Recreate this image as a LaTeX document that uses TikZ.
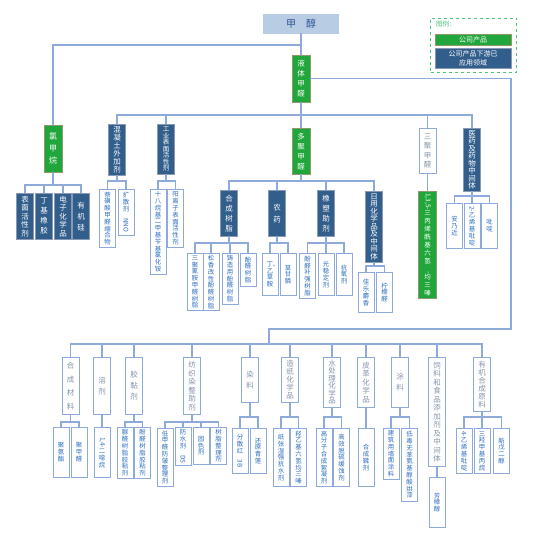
\documentclass[tikz,border=0pt]{standalone}
\usepackage{fontspec}
\setmainfont{Noto Sans CJK SC}
\usepackage{graphicx}
\usetikzlibrary{positioning,calc}
\XeTeXlinebreaklocale "zh"
\XeTeXlinebreakskip=0pt plus 1pt
\setlength{\parindent}{0pt}
\definecolor{prodgreen}{HTML}{21A63B}
\definecolor{prodedge}{HTML}{8C9A6C}
\definecolor{fielddark}{HTML}{325E8C}
\definecolor{linkblue}{HTML}{8EAADB}
\definecolor{leafblue}{HTML}{2E6FC0}
\definecolor{catgray}{HTML}{8494AE}
\definecolor{topfill}{HTML}{B8CCE4}
\definecolor{toptext}{HTML}{2F5597}
\definecolor{legendgreen}{HTML}{4CC47A}
\newcommand{\rotlat}[1]{\hskip0pt\rotatebox{-90}{#1}\hskip0pt}
\newcommand{\branch}[3]{\foreach \c in {#3} {\draw[conn] (#1.south) -- (#1.south |- #2) -| (\c.north);}}

\begin{document}
\begin{tikzpicture}[x=1pt,y=-1pt,
  box/.style={draw, rectangle, anchor=north, inner xsep=0pt, inner ysep=2pt, align=center},
  lsp/.style={font=\fontsize{7.5}{#1}\selectfont},
  prod/.style={box, fill=prodgreen, draw=prodedge, text=white, minimum width=18pt, text width=8.5pt, lsp=10},
  field/.style={box, fill=fielddark, draw=linkblue!60!gray, text=white, minimum width=17pt, text width=8.5pt, lsp=10},
  cat/.style={box, fill=white, draw=linkblue, line width=0.8pt, text=catgray, minimum width=17pt, text width=8.5pt, lsp=10},
  leaf/.style={box, fill=white, draw=linkblue, line width=0.8pt, text=leafblue, minimum width=16pt, text width=7pt, font=\fontsize{6.4}{6.8}\selectfont},
  conn/.style={draw=linkblue, line width=1.1pt}]

\fill[white] (0,0) rectangle (554,535);
\useasboundingbox (0,0) rectangle (554,535);

% top
\node[fill=topfill, draw=topfill, text=toptext, minimum width=75pt, minimum height=19pt, anchor=north, inner sep=0pt, font=\fontsize{10}{11}\selectfont] (methanol) at (301,14) {甲\quad 醇};
\node[prod, minimum height=47pt] (liquidfa) at (301,55) {液体甲醛};
\node[prod, minimum height=47pt, font=\fontsize{8}{12}\selectfont] (chloromethane) at (53,125) {氯甲烷};

% legend
\node[draw=legendgreen, dashed, line width=1pt, minimum width=86pt, minimum height=54pt, anchor=north west] (legend) at (430,18) {};
\node[anchor=north west, text=legendgreen, inner sep=0pt, font=\fontsize{6.5}{7}\selectfont] (legendtitle) at (436,21) {图例：};
\node[anchor=north, fill=prodgreen, draw=prodedge, text=white, minimum width=76pt, minimum height=11pt, inner sep=0pt, font=\fontsize{7}{8}\selectfont] (legendprod) at (473,34) {公司产品};
\node[anchor=north, fill=fielddark, draw=linkblue!60!gray, text=white, minimum width=76pt, minimum height=20pt, inner sep=0pt, align=center, font=\fontsize{7}{8.5}\selectfont] (legendfield) at (473,48) {公司产品下游已\\应用领域};

% second level
\node[field, minimum height=50pt, lsp=8] (concrete) at (117,124) {混凝土外加剂};
\node[field, minimum height=50pt, font=\fontsize{6.5}{6.5}\selectfont] (surfact) at (166,124) {工业表面活性剂};
\node[prod, minimum height=46pt] (parafa) at (301,128) {多聚甲醛};
\node[cat, minimum height=45pt, lsp=9.5] (trioxane) at (427.5,128) {三聚甲醛};
\node[field, minimum height=63pt, lsp=7.5] (pharma) at (472,128) {医药及药物中间体};

\node[field, minimum height=46pt, lsp=8.5] (cl1) at (25,193) {表面活性剂};
\node[field, minimum height=46pt, lsp=10] (cl2) at (44,193) {丁基橡胶};
\node[field, minimum height=46pt, lsp=8.5] (cl3) at (63,193) {电子化学品};
\node[field, minimum height=46pt, lsp=11] (cl4) at (81,193) {有机硅};

\node[leaf, minimum height=58pt] (con1) at (107.5,189) {萘磺酸甲醛缩合物};
\node[leaf, minimum height=46pt] (con2) at (126,189) {扩散剂\rotlat{NNO}};
\node[leaf, minimum height=83pt] (sur1) at (158,189) {十八烷基二甲基苄基氯化铵};
\node[leaf, minimum height=58pt] (sur2) at (175.5,189) {阳离子表面活性剂};

\node[field, minimum height=46pt] (resin) at (229,190) {合成树脂};
\node[field, minimum height=46pt, lsp=12] (pesticide) at (277,190) {农药};
\node[field, minimum height=46pt] (rubber) at (326,190) {橡塑助剂};
\node[field, minimum height=71pt, lsp=7.5] (daily) at (374,191) {日用化学品及中间体};

\node[leaf, minimum height=57pt] (res1) at (195,253) {三聚氰胺甲醛树脂};
\node[leaf, minimum height=57pt] (res2) at (211,253) {松香改性酚醛树脂};
\node[leaf, minimum height=50pt] (res3) at (230,253) {铸造用酚醛树脂};
\node[leaf, minimum height=33pt] (res4) at (248,253) {酚醛树脂};
\node[leaf, minimum height=42pt] (pes1) at (270,253) {丁、乙草胺};
\node[leaf, minimum height=42pt] (pes2) at (288,253) {草甘膦};
\node[leaf, minimum height=45pt] (rub1) at (307.5,253) {酚醛补强树脂};
\node[leaf, minimum height=42pt] (rub2) at (326,253) {光稳定剂};
\node[leaf, minimum height=42pt] (rub3) at (344,253) {抗氧剂};
\node[leaf, minimum height=40pt] (day1) at (366,272) {佳乐麝香};
\node[leaf, minimum height=40pt] (day2) at (384.5,272) {柠檬醛};

\node[prod, minimum height=107pt, font=\fontsize{6.5}{8}\selectfont] (tri1) at (427.5,191) {\rotlat{1,3,5-}三丙烯酰基六氢\rotlat{-}均三嗪};
\node[leaf, minimum height=45pt] (ph1) at (454.5,203) {安乃近};
\node[leaf, minimum height=45pt] (ph2) at (472,203) {\rotlat{2-}乙烯基吡啶};
\node[leaf, minimum height=45pt] (ph3) at (489.5,203) {吡啶};

% bottom row
\node[cat, minimum height=57pt, lsp=13.5] (synmat) at (70.5,357) {合成材料};
\node[cat, minimum height=57pt, lsp=11] (solvent) at (102,357) {溶剂};
\node[cat, minimum height=57pt, lsp=11] (adhesive) at (134,357) {胶黏剂};
\node[cat, minimum height=57pt, lsp=8.5] (textile) at (192,357) {纺织染整助剂};
\node[cat, minimum height=45pt, lsp=11] (dye) at (250,357) {染料};
\node[cat, minimum height=45pt, lsp=8] (paper) at (290,357) {造纸化学品};
\node[cat, minimum height=50pt, lsp=7.5] (water) at (332,357) {水处理化学品};
\node[cat, minimum height=50pt, lsp=8.5] (leather) at (366,357) {皮革化学品};
\node[cat, minimum height=50pt, lsp=11] (coating) at (400,357) {涂料};
\node[cat, minimum height=109pt, lsp=8.5] (feed) at (437,357) {饲料和食品添加剂及中间体};
\node[cat, minimum height=54pt, lsp=8] (organic) at (482,357) {有机合成原料};

\node[leaf, minimum height=50pt] (sm1) at (61,427) {聚氨酯};
\node[leaf, minimum height=50pt] (sm2) at (79,427) {聚甲醛};
\node[leaf, minimum height=50pt] (sol1) at (102,427) {\rotlat{1,4-}二噁烷};
\node[leaf, minimum height=51pt] (ad1) at (125,427) {脲醛树脂胶粘剂};
\node[leaf, minimum height=51pt] (ad2) at (142.5,427) {酚醛树脂胶粘剂};
\node[leaf, minimum height=58pt] (tx1) at (165,428) {低甲醛防皱整理剂};
\node[leaf, minimum height=37pt] (tx2) at (183,427) {防水剂\rotlat{DS}};
\node[leaf, minimum height=37pt] (tx3) at (201,427) {固色剂};
\node[leaf, minimum height=37pt] (tx4) at (218.5,427) {树脂整理剂};
\node[leaf, minimum height=45pt] (dy1) at (240,428) {分散红\rotlat{3B}};
\node[leaf, minimum height=45pt] (dy2) at (258,428) {还原青莲};
\node[leaf, minimum height=58pt] (pp1) at (281,428) {纸张湿强抗水剂};
\node[leaf, minimum height=58pt] (pp2) at (298.5,428) {羟乙基六氢均三嗪};
\node[leaf, minimum height=58pt] (wt1) at (324,428) {高分子合成絮凝剂};
\node[leaf, minimum height=58pt] (wt2) at (341.5,428) {高效脱硫缓蚀剂};
\node[leaf, minimum height=58pt] (le1) at (366,428) {合成鞣剂};
\node[leaf, minimum height=50pt] (co1) at (391,428) {建筑用墙面涂料};
\node[leaf, minimum height=73pt] (co2) at (409.5,428) {低毒无苯氨基醇酸烘漆};
\node[leaf, minimum height=50pt] (fd1) at (437,477) {芳樟醇};
\node[leaf, minimum height=45pt] (or1) at (464,428) {\rotlat{4-}乙烯基吡啶};
\node[leaf, minimum height=45pt] (or2) at (482,428) {三羟甲基丙烷};
\node[leaf, minimum height=45pt] (or3) at (501.5,428) {新戊二醇};

% buses
\coordinate (busA) at (0,45);
\coordinate (busB) at (0,115);
\coordinate (busCl) at (0,185);
\coordinate (busC) at (0,181);
\coordinate (busD) at (0,243);
\coordinate (busE) at (0,266);
\coordinate (busF) at (0,196);
\coordinate (busG) at (0,422);
\coordinate (busH) at (0,417);
\coordinate (loopR) at (511,329);
\coordinate (loopL) at (269,344);

\draw[conn] (methanol) -- (liquidfa);
\branch{methanol}{busA}{chloromethane}
\branch{liquidfa}{busB}{concrete,surfact,parafa,trioxane,pharma}
\branch{chloromethane}{busCl}{cl1,cl2,cl3,cl4}
\branch{concrete}{busC}{con1,con2}
\branch{surfact}{busC}{sur1,sur2}
\branch{parafa}{busC}{resin,pesticide,rubber,daily}
\branch{resin}{busD}{res1,res2,res3,res4}
\branch{pesticide}{busD}{pes1,pes2}
\branch{rubber}{busD}{rub1,rub2,rub3}
\branch{daily}{busE}{day1,day2}
\branch{pharma}{busF}{ph1,ph2,ph3}
\draw[conn] (trioxane) -- (tri1);

\draw[conn] (liquidfa.east) -| (loopR) -| (loopL);
\foreach \c in {synmat,solvent,adhesive,textile,dye,paper,water,leather,coating,feed,organic}
  \draw[conn] (loopL) -| (\c.north);
\branch{synmat}{busG}{sm1,sm2}
\branch{solvent}{busG}{sol1}
\branch{adhesive}{busG}{ad1,ad2}
\branch{textile}{busG}{tx1,tx2,tx3,tx4}
\branch{dye}{busH}{dy1,dy2}
\branch{paper}{busH}{pp1,pp2}
\branch{water}{busH}{wt1,wt2}
\branch{leather}{busH}{le1}
\branch{coating}{busH}{co1,co2}
\draw[conn] (feed) -- (fd1);
\branch{organic}{busH}{or1,or2,or3}

\end{tikzpicture}
\end{document}
